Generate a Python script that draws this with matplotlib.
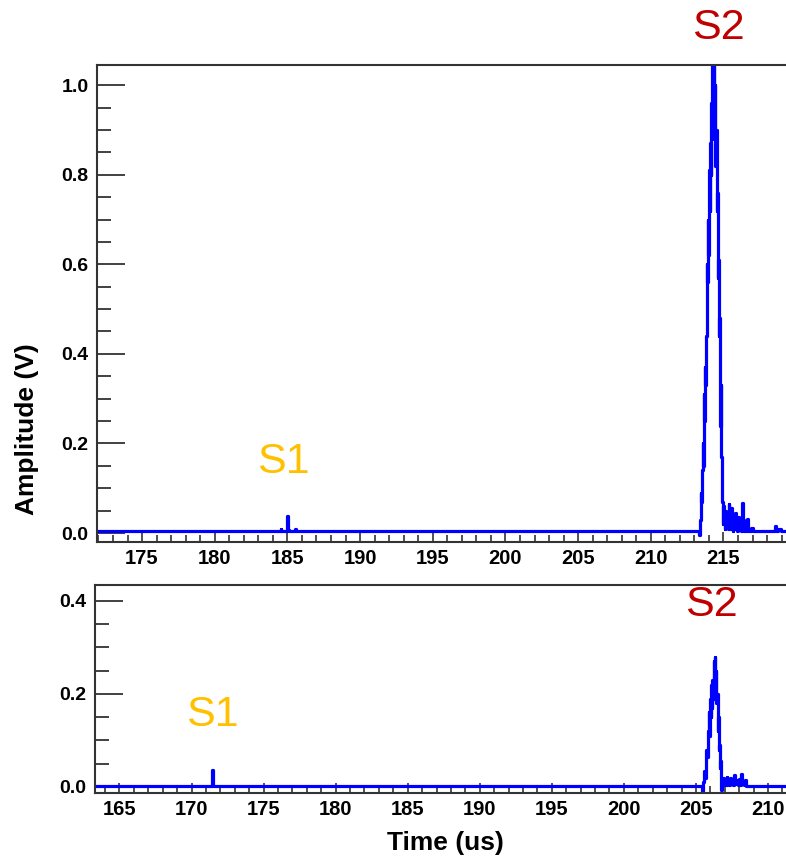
import matplotlib.pyplot as plt
from matplotlib.ticker import MultipleLocator, FormatStrFormatter

plt.rcParams['font.family'] = ['Liberation Sans', 'DejaVu Sans']

# Top waveform (time in us, amplitude in V)
top_t = [171.9, 184.50, 184.55, 184.60, 184.95, 185.00, 185.05, 185.10, 185.50, 185.55, 185.60,
         213.00, 213.30, 213.34, 213.38, 213.42, 213.46, 213.50, 213.54, 213.58, 213.62, 213.66,
         213.70, 213.74, 213.78, 213.82, 213.86, 213.90, 213.94, 213.98, 214.02, 214.06, 214.10,
         214.14, 214.18, 214.22, 214.26, 214.30, 214.34, 214.38, 214.42, 214.46, 214.50, 214.54,
         214.58, 214.62, 214.66, 214.70, 214.74, 214.78, 214.82, 214.86, 214.90, 214.94, 214.98,
         215.02, 215.06, 215.10, 215.14, 215.18, 215.22, 215.26, 215.30, 215.34, 215.38, 215.42,
         215.46, 215.50, 215.54, 215.58, 215.62, 215.66, 215.70, 215.74, 215.80, 215.86, 215.92,
         215.98, 216.04, 216.10, 216.16, 216.22, 216.28, 216.34, 216.40, 216.46, 216.52, 216.58,
         216.64, 216.70, 216.80, 217.00, 217.06, 218.55, 218.60, 218.65, 218.90, 219.00, 219.40]
top_v = [0.004, 0.004, 0.008, 0.004, 0.004, 0.037, 0.006, 0.004, 0.004, 0.008, 0.004,
         0.004, 0.004, -0.005, 0.010, 0.030, 0.090, 0.070, 0.140, 0.200, 0.150, 0.310,
         0.250, 0.370, 0.330, 0.440, 0.600, 0.560, 0.700, 0.620, 0.810, 0.720, 0.870,
         0.800, 0.960, 0.880, 1.060, 0.960, 1.060, 0.900, 1.000, 0.820, 0.900, 0.720,
         0.760, 0.570, 0.610, 0.440, 0.480, 0.240, 0.330, 0.170, 0.100, 0.070, 0.020,
         0.060, 0.040, 0.010, 0.050, 0.020, 0.045, 0.015, 0.030, 0.008, 0.065, 0.020,
         0.050, 0.010, 0.055, 0.015, 0.040, 0.005, 0.030, 0.010, 0.045, 0.010, 0.020,
         0.005, 0.035, 0.010, 0.025, 0.005, 0.068, 0.010, 0.030, 0.005, 0.020, 0.004,
         0.031, 0.006, 0.004, 0.012, 0.004, 0.004, 0.016, 0.004, 0.010, 0.004, 0.004]

# Bottom waveform
bot_t = [163.3, 171.38, 171.44, 171.50,
         205.40, 205.46, 205.52, 205.58, 205.64, 205.70, 205.76, 205.82, 205.88, 205.92, 205.96,
         206.00, 206.04, 206.08, 206.12, 206.16, 206.20, 206.24, 206.28, 206.32, 206.36, 206.40,
         206.44, 206.48, 206.52, 206.56, 206.60, 206.64, 206.68, 206.72, 206.76, 206.80, 206.86,
         206.92, 206.98, 207.04, 207.10, 207.16, 207.22, 207.28, 207.34, 207.40, 207.46, 207.52,
         207.60, 207.70, 207.76, 207.86, 207.92, 208.00, 208.06, 208.14, 208.20, 208.30, 208.40,
         208.46, 208.52, 211.3]
bot_v = [0.003, 0.003, 0.036, 0.003,
         0.003, -0.008, 0.010, 0.035, 0.020, 0.060, 0.080, 0.065, 0.120, 0.160, 0.110,
         0.190, 0.150, 0.220, 0.170, 0.230, 0.190, 0.270, 0.220, 0.280, 0.200, 0.250,
         0.180, 0.200, 0.120, 0.150, 0.080, 0.090, 0.040, 0.055, -0.006, 0.010, 0.004,
         0.020, 0.005, 0.018, 0.004, 0.022, 0.006, 0.015, 0.004, 0.020, 0.006, 0.012,
         0.004, 0.025, 0.006, 0.015, 0.004, 0.018, 0.005, 0.028, 0.006, 0.012, 0.004,
         0.015, 0.003, 0.003]

fig = plt.figure(figsize=(7.86, 8.59), dpi=100)
ax1 = fig.add_axes([97 / 786, 1 - 542 / 859, 1 - 97 / 786, (542 - 65) / 859])
ax2 = fig.add_axes([95 / 786, 1 - 793 / 859, 1 - 95 / 786, (793 - 585) / 859])


def style_axis(ax, xlim, ylim):
    ax.set_xlim(*xlim)
    ax.set_ylim(*ylim)
    ax.spines['right'].set_visible(False)
    for s in ['left', 'top', 'bottom']:
        ax.spines[s].set_color('#333333')
        ax.spines[s].set_linewidth(1.5)
    ax.xaxis.set_major_locator(MultipleLocator(5))
    ax.xaxis.set_minor_locator(MultipleLocator(1))
    ax.yaxis.set_major_locator(MultipleLocator(0.2))
    ax.yaxis.set_minor_locator(MultipleLocator(0.05))
    ax.yaxis.set_major_formatter(FormatStrFormatter('%.1f'))
    ax.tick_params(axis='y', which='major', direction='in', length=20, width=1.3,
                   color='#333333', pad=6, labelsize=14)
    ax.tick_params(axis='y', which='minor', direction='in', length=10, width=1.3, color='#333333')
    ax.tick_params(axis='x', which='major', direction='in', length=7, width=1.2,
                   color='#333333', pad=5, labelsize=14.5)
    ax.tick_params(axis='x', which='minor', direction='in', length=5, width=1.2, color='#333333')
    for lab in ax.get_xticklabels() + ax.get_yticklabels():
        lab.set_fontweight('bold')


ax1.plot(top_t, top_v, color='#0000ff', lw=2.3, drawstyle='steps-mid')
style_axis(ax1, (171.9, 219.3), (-0.02, 1.045))
ax1.text(184.7, 0.158, 'S1', color='#ffc000', fontsize=31, ha='center', va='center')
ax1.text(214.66, 1.127, 'S2', color='#c00000', fontsize=31, ha='center', va='center',
         clip_on=False)

ax2.plot(bot_t, bot_v, color='#0000ff', lw=2.3, drawstyle='steps-mid')
style_axis(ax2, (163.3, 211.25), (-0.013, 0.434))
ax2.text(171.46, 0.155, 'S1', color='#ffc000', fontsize=31, ha='center', va='center')
ax2.text(206.1, 0.39, 'S2', color='#c00000', fontsize=31, ha='center', va='center')

fig.text(27 / 786, 1 - 429 / 859, 'Amplitude (V)', rotation=90, fontsize=19,
         fontweight='bold', ha='center', va='center')
fig.text(445 / 786, 1 - 843 / 859, 'Time (us)', fontsize=19, fontweight='bold',
         ha='center', va='center')

fig.savefig('out.png', dpi=100)
